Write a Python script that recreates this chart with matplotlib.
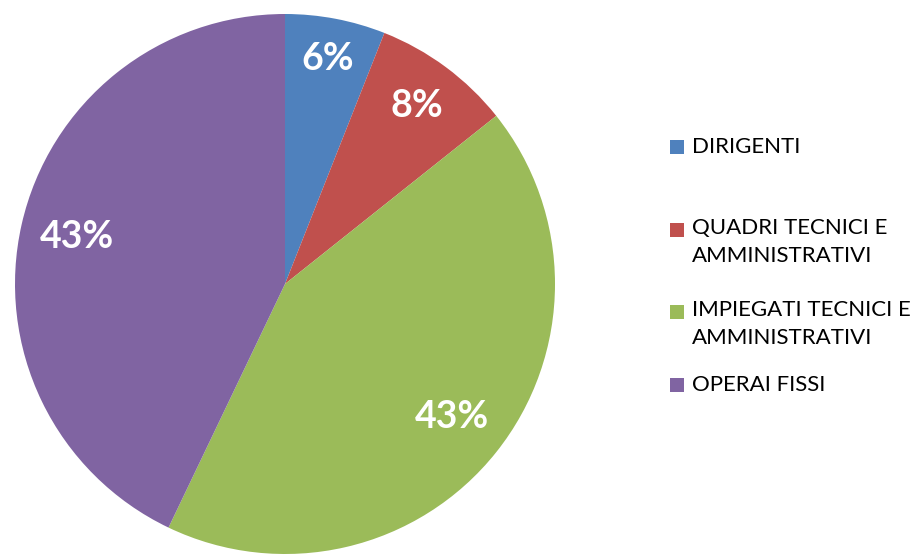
import numpy as np
import matplotlib.pyplot as plt
from matplotlib.patches import Rectangle

# Dati del grafico
categorie = ['DIRIGENTI', 'QUADRI TECNICI E\nAMMINISTRATIVI',
             'IMPIEGATI TECNICI E\nAMMINISTRATIVI', 'OPERAI FISSI']
valori = [6.0, 8.3, 42.8, 42.9]
colori = ['#4F81BD', '#C0504D', '#9BBB59', '#8064A2']

plt.rcParams['font.family'] = ['Lato', 'DejaVu Sans']

W, H = 919, 557
fig = plt.figure(figsize=(W / 100, H / 100), dpi=100)

# Torta: centro (285, 284) px, raggio 270 px
cx, cy, r = 285, 284, 270
ax = fig.add_axes([(cx - r) / W, (H - cy - r) / H, 2 * r / W, 2 * r / H])
wedges, testi, autotesti = ax.pie(valori, colors=colori, startangle=90,
                                  counterclock=False, autopct='%.0f%%',
                                  pctdistance=0.8,
                                  wedgeprops={'linewidth': 0})
# distanza delle etichette dal centro (come in Excel)
dist = [0.85, 0.82, 0.79, 0.79]
for w, t, d in zip(wedges, autotesti, dist):
    ang = np.deg2rad((w.theta1 + w.theta2) / 2)
    t.set_position((d * np.cos(ang), d * np.sin(ang)))
    t.set_color('white')
    t.set_fontsize(27)
    t.set_fontweight('bold')
ax.set_xlim(-1, 1)
ax.set_ylim(-1, 1)
ax.set_aspect('equal')
ax.axis('off')

# Legenda disegnata a mano (spaziatura irregolare come nell'originale)
y_voci = [147, 230, 312, 385]
for cat, col, y in zip(categorie, colori, y_voci):
    fig.patches.append(Rectangle((670 / W, (H - y - 7) / H), 14 / W, 14 / H,
                                 transform=fig.transFigure, facecolor=col,
                                 edgecolor='none'))
    if '\n' in cat:
        fig.text(692 / W, (H - y + 12) / H, cat, fontsize=16, va='top',
                 ha='left', color='black', linespacing=1.5)
    else:
        fig.text(692 / W, (H - y) / H, cat, fontsize=16, va='center',
                 ha='left', color='black')

plt.savefig('out.png', dpi=100)
